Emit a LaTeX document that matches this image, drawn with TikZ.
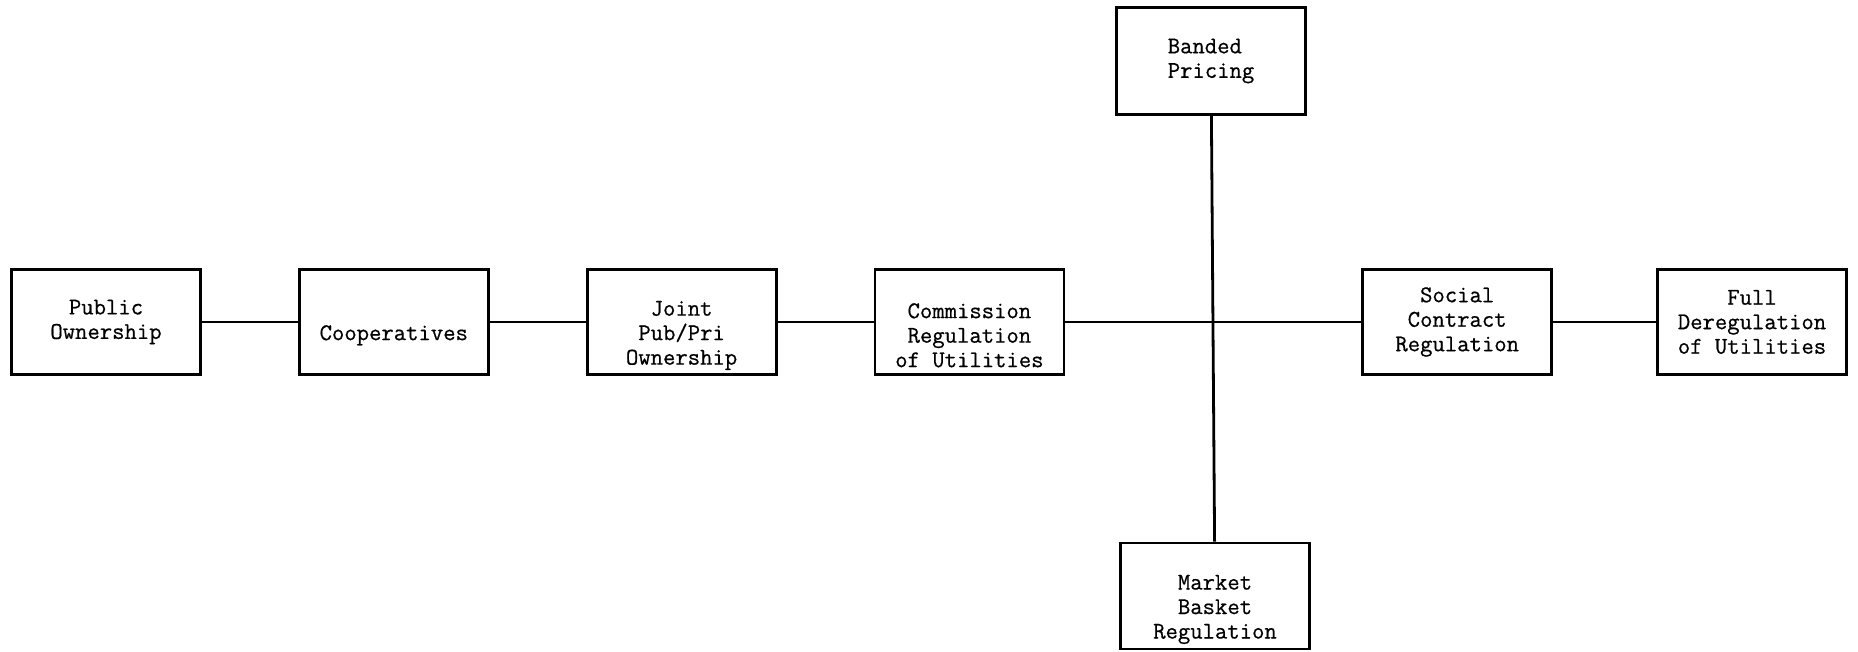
\documentclass[tikz,border=0pt]{standalone}
\usepackage{fontspec}
\usepackage{tikz}
\usetikzlibrary{positioning}
\newfontfamily\tyfont{Latin Modern Mono}[FakeBold=0.6]
\tikzstyle{stage} = [rectangle, draw=black, line width=2.8pt, minimum width=189pt, minimum height=105pt, inner sep=2pt, align=center, font=\tyfont\fontsize{24}{24.5}\selectfont]
\tikzstyle{link} = [line width=2.8pt]

\begin{document}
\begin{tikzpicture}[x=1pt, y=1pt, node distance=96pt]
\useasboundingbox (0,0) rectangle (1858,652);

\node (public) [stage] at (106,330) {Public\\Ownership};
\node (coop) [stage, right=of public] {\strut\\Cooperatives};
\node (joint) [stage, right=of coop] {\strut\\Joint\\Pub/Pri\\Ownership};
\node (comm) [stage, right=of joint] {\strut\\Commission\\Regulation\\of Utilities};
\node (social) [stage, right=296pt of comm] {Social\\Contract\\Regulation};
\node (full) [stage, right=103pt of social] {Full\\Deregulation\\of Utilities};
\node (banded) [stage, align=left, minimum height=107pt] at (1211,591) {Banded\\Pricing};
\node (market) [stage, minimum height=106pt] at (1215,56) {\strut\\Market\\Basket\\Regulation};

\draw [link] (public) -- (coop);
\draw [link] (coop) -- (joint);
\draw [link] (joint) -- (comm);
\draw [link] (comm) -- (social);
\draw [link] (social) -- (full);
\draw [link] (banded) -- (market);

\end{tikzpicture}
\end{document}
